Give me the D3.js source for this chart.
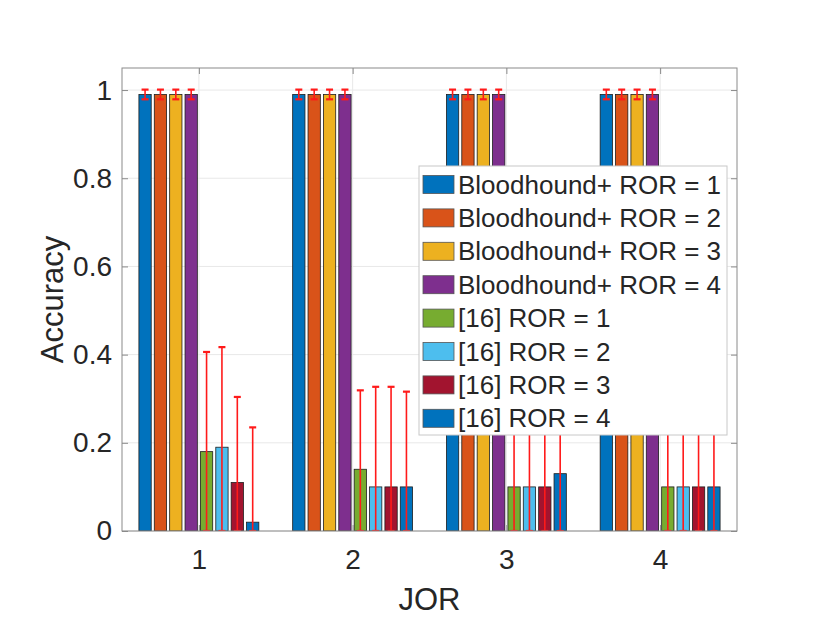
<!DOCTYPE html>
<html>
<head>
<meta charset="utf-8">
<script src="https://cdn.jsdelivr.net/npm/d3@7"></script>
<style>
  body { margin: 0; background: #fff; }
  text { font-family: "Liberation Sans", Arial, sans-serif; fill: #262626; }
</style>
</head>
<body>
<svg width="830" height="642"></svg>
<script>
// Groups on the x axis (JOR)
var groups = [1, 2, 3, 4];

// Series names (legend order)
var seriesNames = [
  "Bloodhound+ ROR = 1", "Bloodhound+ ROR = 2", "Bloodhound+ ROR = 3", "Bloodhound+ ROR = 4",
  "[16] ROR = 1", "[16] ROR = 2", "[16] ROR = 3", "[16] ROR = 4"
];

// Mean accuracy per series, one value per group
var bh1 = [0.99, 0.99, 0.99, 0.99];
var bh2 = [0.99, 0.99, 0.99, 0.99];
var bh3 = [0.99, 0.99, 0.99, 0.99];
var bh4 = [0.99, 0.99, 0.99, 0.99];
var r16_1 = [0.18, 0.14, 0.10, 0.10];
var r16_2 = [0.19, 0.10, 0.10, 0.10];
var r16_3 = [0.11, 0.10, 0.10, 0.10];
var r16_4 = [0.02, 0.10, 0.13, 0.10];

// Error bar half-lengths
var bhErr = [0.011, 0.011, 0.011, 0.011];
var e16_1 = [0.226, 0.179, 0.22, 0.22];
var e16_2 = [0.227, 0.227, 0.22, 0.22];
var e16_3 = [0.194, 0.227, 0.22, 0.22];
var e16_4 = [0.215, 0.216, 0.22, 0.22];

var yTicks = [0, 0.2, 0.4, 0.6, 0.8, 1];

var seriesValues = [bh1, bh2, bh3, bh4, r16_1, r16_2, r16_3, r16_4];
var seriesErrors = [bhErr, bhErr, bhErr, bhErr, e16_1, e16_2, e16_3, e16_4];
var colors = ["#0072BD", "#D95319", "#EDB120", "#7E2F8E", "#77AC30", "#4DBEEE", "#A2142F", "#0072BD"];

// margins and dimensions
var margin = {top: 68, right: 93, bottom: 111, left: 122},
    width = 830 - margin.left - margin.right,
    height = 642 - margin.top - margin.bottom;

var svg = d3.select("svg")
  .append("g")
    .attr("transform", "translate(" + margin.left + "," + margin.top + ")");

var x = d3.scaleLinear().domain([0.5, 4.5]).range([0, width]);
var y = d3.scaleLinear().domain([0, 1.05]).range([height, 0]);
var unit = x(1) - x(0);

// position of each bar inside its group
var xInner = d3.scaleBand()
    .domain(d3.range(seriesNames.length))
    .range([-0.4 * unit, 0.4 * unit])
    .paddingInner(0.2)
    .paddingOuter(0.1);

var axisColor = "#8a8a8a";

// grid
svg.append("g").selectAll("line.gy")
    .data(yTicks).enter().append("line")
    .attr("x1", 0).attr("x2", width)
    .attr("y1", function(d) { return y(d); }).attr("y2", function(d) { return y(d); })
    .style("stroke", "#e8e8e8");
svg.append("g").selectAll("line.gx")
    .data(groups).enter().append("line")
    .attr("y1", 0).attr("y2", height)
    .attr("x1", function(d) { return x(d); }).attr("x2", function(d) { return x(d); })
    .style("stroke", "#e8e8e8");

svg.append("defs").append("clipPath").attr("id", "clip")
  .append("rect").attr("width", width).attr("height", height);

var plot = svg.append("g").attr("clip-path", "url(#clip)");

// bars
seriesValues.forEach(function(vals, s) {
  plot.append("g").selectAll("rect")
      .data(vals)
    .enter().append("rect")
      .attr("x", function(d, i) { return x(groups[i]) + xInner(s); })
      .attr("y", function(d) { return y(d); })
      .attr("width", xInner.bandwidth())
      .attr("height", function(d) { return y(0) - y(d); })
      .style("fill", colors[s])
      .style("stroke", "#1e1e1e")
      .style("stroke-width", 0.8);
});

// error bars
var capW = 3.5;
seriesValues.forEach(function(vals, s) {
  var errs = seriesErrors[s];
  var g = plot.append("g");
  vals.forEach(function(v, i) {
    var cx = x(groups[i]) + xInner(s) + xInner.bandwidth() / 2;
    var hi = v + errs[i], lo = Math.max(0, v - errs[i]);
    g.append("line").attr("x1", cx).attr("x2", cx)
      .attr("y1", y(hi)).attr("y2", y(lo))
      .style("stroke", "#ff1a1a").style("stroke-width", 1.6);
    [hi, lo].forEach(function(e) {
      g.append("line").attr("x1", cx - capW).attr("x2", cx + capW)
        .attr("y1", y(e)).attr("y2", y(e))
        .style("stroke", "#ff1a1a").style("stroke-width", 2.2);
    });
  });
});

// axes
var yAxis = svg.append("g")
    .call(d3.axisLeft(y).tickValues(yTicks).tickSize(-6).tickPadding(10).tickFormat(d3.format("~g")));
var yAxisR = svg.append("g").attr("transform", "translate(" + width + ",0)")
    .call(d3.axisRight(y).tickValues(yTicks).tickSize(-6).tickFormat(""));
var xAxis = svg.append("g").attr("transform", "translate(0," + height + ")")
    .call(d3.axisBottom(x).tickValues(groups).tickSize(-6).tickPadding(18).tickFormat(d3.format("d")));
var xAxisT = svg.append("g")
    .call(d3.axisTop(x).tickValues(groups).tickSize(-6).tickFormat(""));

[yAxis, yAxisR, xAxis, xAxisT].forEach(function(a) {
  a.select(".domain").style("stroke", axisColor).attr("d", null);
  a.selectAll(".tick line").style("stroke", axisColor);
  a.selectAll("text").style("font-size", "28px").style("font-family", "Liberation Sans, Arial, sans-serif").attr("fill", "#262626");
});
svg.append("rect").attr("width", width).attr("height", height)
    .style("fill", "none").style("stroke", axisColor).style("stroke-width", 1);

// axis labels
svg.append("text")
    .attr("x", width / 2).attr("y", height + 79)
    .attr("text-anchor", "middle")
    .style("font-size", "31px")
    .text("JOR");
svg.append("text")
    .attr("transform", "translate(" + (-59) + "," + (height / 2) + ") rotate(-90)")
    .attr("text-anchor", "middle")
    .style("font-size", "31px")
    .text("Accuracy");

// legend
var legend = d3.select("svg").append("g").attr("transform", "translate(419,166)");
legend.append("rect")
    .attr("width", 308).attr("height", 269)
    .style("fill", "#fff").style("stroke", "#c8c8c8");
var rows = legend.selectAll("g.row").data(seriesNames).enter().append("g")
    .attr("transform", function(d, i) { return "translate(4," + (18.5 + i * 33.4) + ")"; });
rows.append("rect")
    .attr("x", 0).attr("y", -9).attr("width", 31).attr("height", 18)
    .style("fill", function(d, i) { return colors[i]; })
    .style("stroke", "#555").style("stroke-width", 0.8);
rows.append("text")
    .attr("x", 35).attr("dy", "0.35em")
    .style("font-size", "26px")
    .text(function(d) { return d; });
</script>
</body>
</html>
